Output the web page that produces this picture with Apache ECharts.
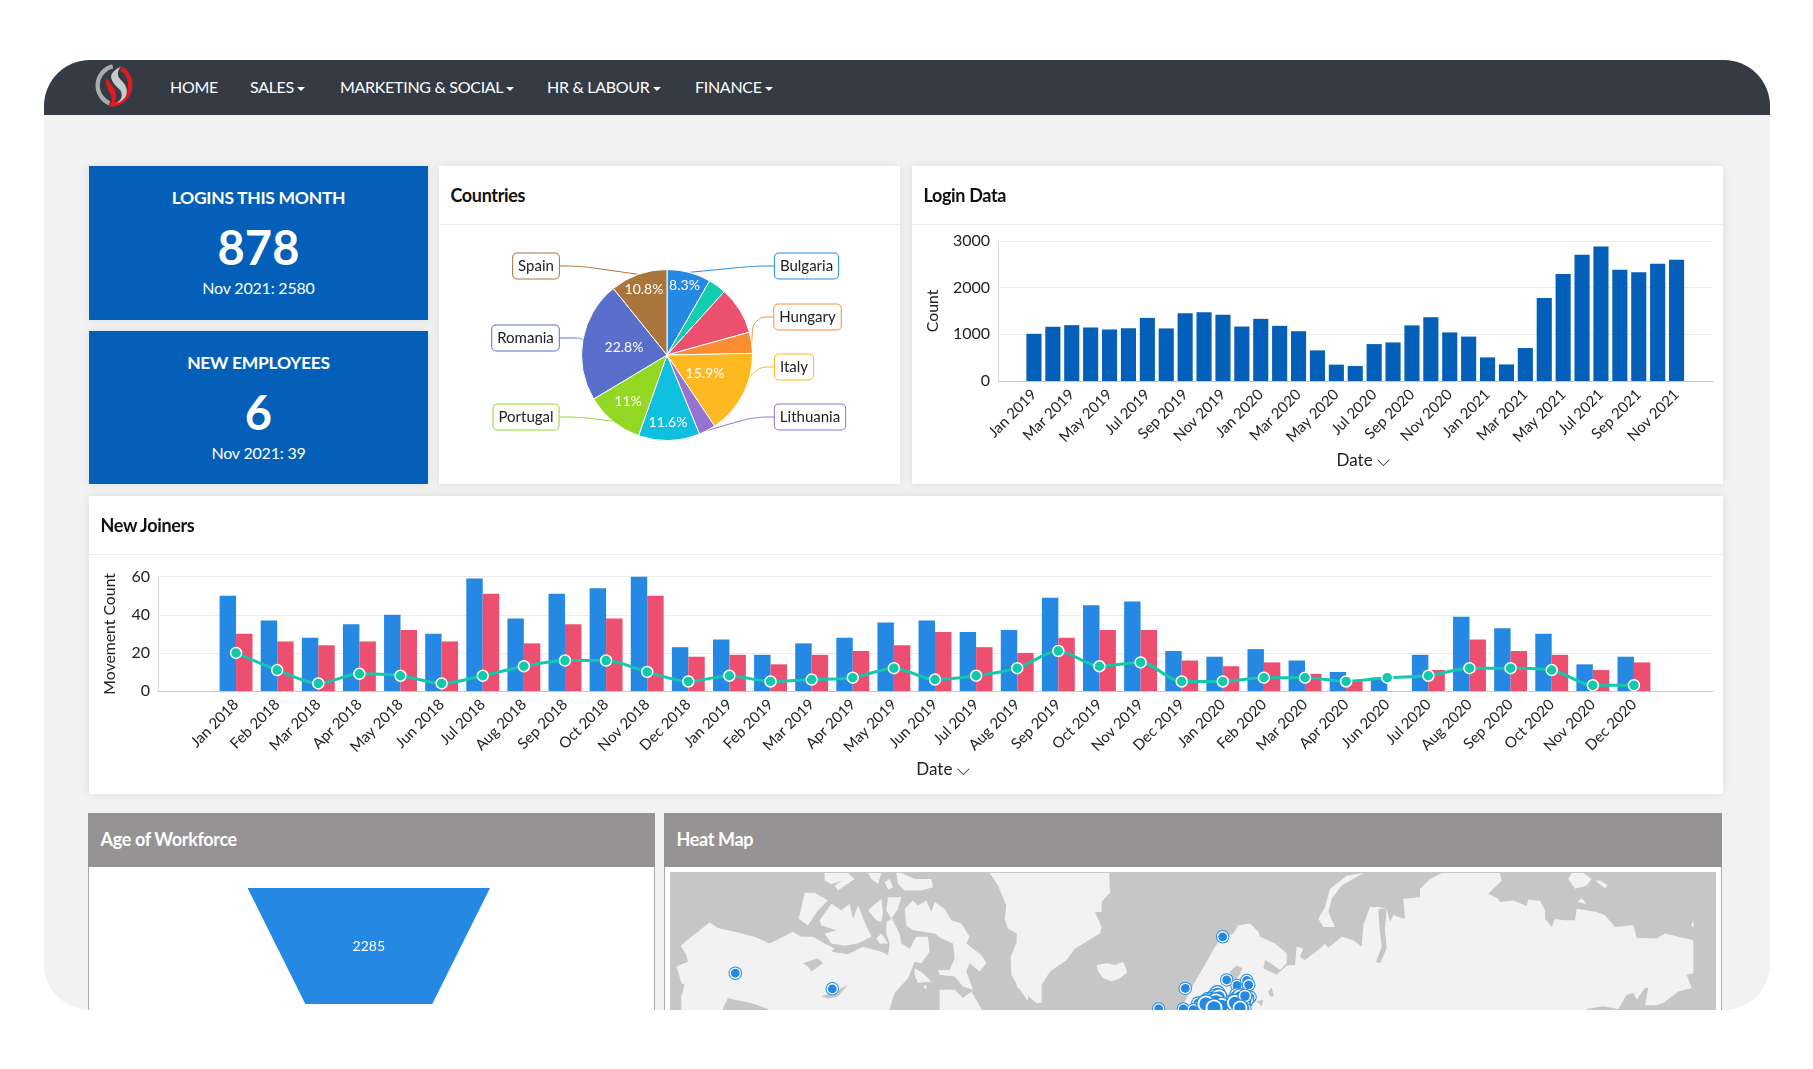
<!DOCTYPE html>
<html>
<head>
<meta charset="utf-8">
<title>Dashboard</title>
<script src="https://cdn.jsdelivr.net/npm/echarts@6/dist/echarts.min.js"></script>
<style>
	html, body { margin: 0; padding: 0; width: 1813px; height: 1069px; background: #fff; overflow: hidden; font-family: Lato, sans-serif; }
	.frame { position: absolute; left: 44px; top: 60px; width: 1726px; height: 950px; background: #f2f2f2; border-radius: 46px; overflow: hidden; }
	.nav { position: absolute; left: 0; top: 0; width: 100%; height: 54.5px; background: #343b45; }
	.nav span { position: absolute; top: 0; line-height: 54px; color: #fff; font-size: 16px; letter-spacing: -0.3px; white-space: nowrap; }
	.nav i { display: inline-block; margin-left: 3px; vertical-align: 2px; border-left: 4px solid transparent; border-right: 4px solid transparent; border-top: 4px solid #fff; }
	.card { position: absolute; background: #fff; box-shadow: 0 0 9px rgba(0,0,0,.09); }
	.card h3 { position: absolute; left: 11.5px; top: 0; margin: 0; height: 58px; line-height: 58px; font-size: 18px; font-weight: 700; letter-spacing: -0.35px; color: #111; }
	.line { position: absolute; left: 0; right: 0; top: 58px; height: 1px; background: #ececec; }
	.kpi { background: #035fb7; color: #fff; text-align: center; }
	.kpi div { position: absolute; left: 0; right: 0; }
	.kpi .t { font-size: 17.5px; font-weight: 700; letter-spacing: -0.3px; }
	.kpi .n { font-size: 47px; font-weight: 700; }
	.kpi .s { font-size: 16px; letter-spacing: -0.2px; }
	.grey { border-left: 1px solid #aaa; border-right: 1px solid #aaa; box-shadow: none; }
	.grey .head { position: absolute; left: -1px; right: -1px; top: 0; height: 54px; background: #959394; }
	.grey h3 { color: #fff; top: 0; height: 54px; line-height: 52px; }
	.chart { position: absolute; }
</style>
</head>
<body>
<div class="frame">
	<div class="nav">
		<svg style="position:absolute;left:50px;top:2px" width="44" height="48" viewBox="0 0 40 44">
			<path d="M17 4 A18 18 0 0 0 14 38" fill="none" stroke="#a9abad" stroke-width="4"/>
			<path d="M25 6 A18 18 0 0 1 14 39" fill="none" stroke="#e01b1f" stroke-width="4"/>
			<path d="M25 4 C8 12 18 20 24 26 C27 32 24 36 20 38 C32 34 32 24 26 18 C21 14 20 9 25 4 Z" fill="#c9cacb"/>
			<path d="M11 15 C9 24 18 30 16 38 C24 34 20 24 11 15 Z" fill="#e01b1f"/>
		</svg>
		<span style="left:126px">HOME</span>
		<span style="left:206px">SALES<i></i></span>
		<span style="left:296px">MARKETING &amp; SOCIAL<i></i></span>
		<span style="left:503px">HR &amp; LABOUR<i></i></span>
		<span style="left:651px">FINANCE<i></i></span>
	</div>

	<div class="card kpi" style="left:45px;top:106px;width:339px;height:154px">
		<div class="t" style="top:21px">LOGINS THIS MONTH</div>
		<div class="n" style="top:53px">878</div>
		<div class="s" style="top:112px">Nov 2021: 2580</div>
	</div>
	<div class="card kpi" style="left:45px;top:271px;width:339px;height:153px">
		<div class="t" style="top:21px">NEW EMPLOYEES</div>
		<div class="n" style="top:53px">6</div>
		<div class="s" style="top:112px">Nov 2021: 39</div>
	</div>

	<div class="card" style="left:395px;top:106px;width:461px;height:318px">
		<h3>Countries</h3><div class="line"></div>
		<div class="chart" id="pie" style="left:0;top:59px;width:461px;height:259px"></div>
	</div>
	<div class="card" style="left:868px;top:106px;width:811px;height:318px">
		<h3>Login Data</h3><div class="line"></div>
		<div class="chart" id="logins" style="left:0;top:59px;width:811px;height:259px"></div>
	</div>
	<div class="card" style="left:45px;top:436px;width:1634px;height:298px">
		<h3>New Joiners</h3><div class="line"></div>
		<div class="chart" id="joiners" style="left:0;top:58px;width:1634px;height:240px"></div>
	</div>
	<div class="card grey" style="left:44px;top:753px;width:565px;height:300px">
		<div class="head"></div><h3>Age of Workforce</h3>
		<div class="chart" id="age" style="left:-1px;top:54px;width:567px;height:300px"></div>
	</div>
	<div class="card grey" style="left:620px;top:753px;width:1056px;height:300px">
		<div class="head"></div><h3>Heat Map</h3>
		<div class="chart" id="map" style="left:5px;top:59px;width:1046px;height:169px"></div>
	</div>
</div>
<script>
var FONT = 'Lato, sans-serif'
var TEXT = '#222'

// 国家饼图
var countryNames = ['Bulgaria', '', '', 'Hungary', 'Italy', 'Lithuania', '', 'Portugal', 'Romania', 'Spain']
var countryShare = [8.3, 3.4, 9, 4, 15.9, 3.2, 11.6, 11, 22.8, 10.8]
var countryColors = ['#2589e3', '#12cdb0', '#eb5071', '#fa8d30', '#fdb91f', '#9673d1', '#0ebfde', '#93d822', '#5a6fcc', '#a8753a']
var countryPercentShown = [true, false, false, false, true, false, true, true, true, true]

// 登录数据
var loginMonths = ['Jan 2019', 'Feb 2019', 'Mar 2019', 'Apr 2019', 'May 2019', 'Jun 2019', 'Jul 2019', 'Aug 2019', 'Sep 2019', 'Oct 2019', 'Nov 2019', 'Dec 2019',
	'Jan 2020', 'Feb 2020', 'Mar 2020', 'Apr 2020', 'May 2020', 'Jun 2020', 'Jul 2020', 'Aug 2020', 'Sep 2020', 'Oct 2020', 'Nov 2020', 'Dec 2020',
	'Jan 2021', 'Feb 2021', 'Mar 2021', 'Apr 2021', 'May 2021', 'Jun 2021', 'Jul 2021', 'Aug 2021', 'Sep 2021', 'Oct 2021', 'Nov 2021']
var loginCounts = [1010, 1160, 1195, 1145, 1100, 1130, 1350, 1125, 1450, 1470, 1415, 1165,
	1330, 1180, 1065, 655, 350, 320, 790, 825, 1190, 1365, 1040, 950,
	505, 355, 705, 1775, 2290, 2700, 2880, 2380, 2325, 2510, 2595]

// 新入职
var joinerMonths = ['Jan 2018', 'Feb 2018', 'Mar 2018', 'Apr 2018', 'May 2018', 'Jun 2018', 'Jul 2018', 'Aug 2018', 'Sep 2018', 'Oct 2018', 'Nov 2018', 'Dec 2018',
	'Jan 2019', 'Feb 2019', 'Mar 2019', 'Apr 2019', 'May 2019', 'Jun 2019', 'Jul 2019', 'Aug 2019', 'Sep 2019', 'Oct 2019', 'Nov 2019', 'Dec 2019',
	'Jan 2020', 'Feb 2020', 'Mar 2020', 'Apr 2020', 'Jun 2020', 'Jul 2020', 'Aug 2020', 'Sep 2020', 'Oct 2020', 'Nov 2020', 'Dec 2020']
var joinersIn = [50, 37, 28, 35, 40, 30, 59, 38, 51, 54, 60, 23,
	27, 19, 25, 28, 36, 37, 31, 32, 49, 45, 47, 21,
	18, 22, 16, 10, 7, 19, 39, 33, 30, 14, 18]
var joinersOut = [30, 26, 24, 26, 32, 26, 51, 25, 35, 38, 50, 18,
	19, 14, 19, 21, 24, 31, 23, 20, 28, 32, 32, 16,
	13, 15, 9, 5, 0, 11, 27, 21, 19, 11, 15]
var joinersNet = [20, 11, 4, 9, 8, 4, 8, 13, 16, 16, 10, 5,
	8, 5, 6, 7, 12, 6, 8, 12, 21, 13, 15, 5,
	5, 7, 7, 5, 7, 8, 12, 12, 11, 3, 3]

// 年龄漏斗（第二段在截图外）
var ageValues = [2285, 1197]

// 地图上的点：x、y（页面像素）、点的大小
var mapPoints = [[735.3, 973, 1], [832.3, 988.7, 1], [1222.7, 936.3, 1], [1185.3, 988.3, 1], [1158.7, 1009, 1], [1183.3, 1009, 1], [1226.7, 979.7, 1], [1237, 985.3, 1], [1246.7, 980.3, 1], [1248.7, 984.7, 1],
	[1217.3, 993, 1.2], [1215, 998, 1.4], [1208.3, 999.7, 1.2], [1218.3, 1003, 1.5], [1198.3, 1003.7, 1.1], [1201.7, 1008, 1.4], [1210, 1006.3, 1.5], [1193.3, 1009.7, 1],
	[1236.7, 994.7, 1.1], [1250, 997.3, 1], [1231.7, 1000.7, 1], [1238.3, 999.7, 1.4], [1243.3, 1001.3, 1.4], [1246.7, 999.7, 1.1], [1236.7, 1004.7, 1.4], [1241.7, 1005.3, 1.4], [1245, 1009, 1], [1233.3, 1008, 1], [1220, 1009.7, 1.2],
	[1212, 1001, 1.4], [1219, 997, 1.3], [1216, 1002, 1.5], [1222, 1006, 1.4], [1206, 1004, 1.5], [1214, 1008, 1.5], [1240, 997, 1.3], [1235, 1003, 1.4], [1245, 996, 1.1], [1240, 1008, 1.3]]

// 地图轮廓，坐标取自放大图：按 起点 + 点/3 换算成页面像素
function at(ox, oy, pts) {
	return pts.map(function (p) { return [ox + p[0] / 3, oy + p[1] / 3] })
}
var west = [668, 868], mid = [1020, 868], east = [1370, 868]
var landRings = [
	at(west[0], west[1], [[38,232],[70,205],[125,162],[150,178],[200,190],[260,205],[305,225],[345,205],[375,190],[400,205],[435,205],[470,225],[500,240],[490,250],[540,258],[585,235],[640,250],[660,260],[665,225],[655,195],[655,160],[672,150],[695,195],[700,225],[725,240],[745,205],[780,205],[785,250],[760,285],[740,280],[720,330],[680,375],[665,423],[665,520],[300,520],[300,423],[250,405],[200,395],[180,390],[165,420],[160,520],[40,520],[40,385],[50,350],[40,345],[30,310],[25,295],[60,280],[55,260]]),
	at(west[0], west[1], [[815,365],[860,365],[885,390],[910,370],[930,405],[940,423],[950,520],[815,520]]),
	at(west[0], west[1], [[710,120],[735,95],[750,110],[775,95],[790,130],[800,100],[830,120],[850,155],[880,165],[905,205],[895,225],[940,260],[955,285],[935,310],[905,285],[895,310],[915,365],[885,355],[860,325],[815,320],[810,305],[845,305],[860,270],[855,225],[820,210],[800,195],[735,185],[715,170]]),
	at(west[0], west[1], [[455,155],[490,105],[520,125],[545,105],[555,150],[570,110],[590,160],[610,205],[570,225],[530,232],[490,225],[470,195],[505,185],[460,170]]),
	at(west[0], west[1], [[392,150],[410,72],[440,72],[480,95],[450,125],[420,170]]),
	at(west[0], west[1], [[600,125],[640,90],[645,130],[640,160],[625,155]]),
	at(west[0], west[1], [[660,85],[700,85],[690,120],[670,150],[655,125]]),
	at(west[0], west[1], [[625,210],[640,195],[660,225],[635,225]]),
	at(west[0], west[1], [[470,12],[540,12],[560,30],[510,65],[500,50],[525,35],[490,45],[470,35]]),
	at(west[0], west[1], [[600,12],[640,12],[630,45],[610,30]]),
	at(west[0], west[1], [[650,40],[665,30],[675,55],[660,62]]),
	at(west[0], west[1], [[685,12],[700,12],[740,30],[790,30],[795,55],[760,65],[710,65],[690,45]]),
	at(west[0], west[1], [[740,300],[765,315],[790,340],[750,345],[740,320]]),
	at(west[0], west[1], [[765,355],[775,350],[775,365]]),
	// 格陵兰
	at(west[0], west[1], [[965,12],[1080,12],[1080,400],[1056,365],[1030,320],[1028,265],[1055,200],[1020,180],[1010,150],[1015,110],[990,50]]),
	at(mid[0], mid[1], [[-10,12],[268,12],[270,70],[245,100],[245,130],[225,130],[245,175],[240,195],[165,240],[140,275],[90,310],[65,350],[65,405],[50,405],[0,365],[-10,355]]),
	// 冰岛
	at(mid[0], mid[1], [[230,290],[260,285],[285,290],[310,280],[322,312],[300,330],[275,340],[250,330],[235,310]]),
	// 新地岛
	at(mid[0], mid[1], [[895,150],[915,115],[930,60],[980,20],[1030,12],[965,50],[935,90],[925,130],[945,175],[910,175]]),
	// 欧亚大陆
	at(mid[0], mid[1], [[490,520],[490,410],[520,350],[560,280],[585,235],[600,215],[640,195],[655,170],[690,165],[715,190],[720,205],[765,225],[800,255],[800,285],[780,305],[760,290],[735,275],[730,300],[770,320],[800,292],[825,290],[830,235],[850,240],[840,265],[855,275],[900,240],[915,225],[925,238],[965,205],[1000,215],[1025,235],[1030,170],[1050,115]]).concat(
		at(east[0], east[1], [[25,115],[50,120],[60,160],[70,140],[105,150],[100,90],[150,85],[150,60],[180,30],[215,12],[390,12],[395,35],[355,75],[385,90],[390,100],[430,95],[470,112],[475,92],[510,97],[525,125],[525,150],[545,175],[555,150],[580,155],[615,155],[620,120],[680,130],[705,140],[735,175],[790,170],[800,208],[860,210],[885,195],[970,215],[970,315],[950,320],[965,360],[925,370],[880,405],[860,412],[825,412],[835,360],[825,360],[800,395],[790,375],[770,380],[745,423],[700,415],[650,423],[640,520],[0,520]])),
	at(east[0], east[1], [[595,30],[605,12],[640,12],[665,30],[650,50],[615,60]]),
	at(east[0], east[1], [[675,35],[690,35],[713,48],[705,58]]),
	at(east[0], east[1], [[622,100],[635,88],[650,105]]),
	at(east[0], east[1], [[962,170],[970,158],[972,175]])
]
var lakeRings = [
	at(west[0], west[1], [[405,285],[450,270],[465,285],[430,310],[420,295]]),
	at(west[0], west[1], [[460,385],[490,375],[540,350],[510,385],[480,392]]),
	at(west[0], west[1], [[822,245],[835,240],[838,262],[825,265]]),
	at(mid[0], mid[1], [[630,310],[650,292],[668,300],[650,335],[635,330]]),
	at(mid[0], mid[1], [[745,370],[755,358],[762,385],[750,385]]),
	at(mid[0], mid[1], [[710,400],[730,395],[725,415]]),
	at(east[0], east[1], [[25,120],[50,120],[45,180],[50,240],[30,285],[18,280],[35,235],[28,170]])
]

function initChart(id) {
	return echarts.init(document.getElementById(id))
}

// 柱子比坐标轴窄：外层 grid 画轴和网格线，内层 grid 放柱子
function comboOption(o) {
	return {
		animation: false,
		grid: [
			{ left: o.left, width: o.width, top: o.top, height: o.height },
			{ left: o.barLeft, width: o.barWidth, top: o.top, height: o.height }
		],
		xAxis: [
			{ gridIndex: 0, type: 'value', min: 0, max: 1, axisLabel: { show: false }, axisTick: { show: false }, splitLine: { show: false },
				axisLine: { show: true, onZero: false, lineStyle: { color: '#c8c8c8', width: 1 } } },
			{ gridIndex: 1, type: 'category', data: o.categories, axisLine: { show: false }, axisTick: { show: false },
				axisLabel: { interval: o.labelInterval, rotate: 45, margin: 11, fontFamily: FONT, fontSize: 15, color: TEXT },
				name: 'Date \u2335', nameLocation: 'middle', nameGap: o.xNameGap, nameMoveOverlap: false,
				nameTextStyle: { fontFamily: FONT, fontSize: 17, color: TEXT, padding: [0, 0, 0, 16] } }
		],
		yAxis: [
			{ gridIndex: 0, type: 'value', min: 0, max: o.max, interval: o.interval,
				axisLine: { show: true, lineStyle: { color: '#d8d8d8' } }, axisTick: { show: false },
				axisLabel: { fontFamily: FONT, fontSize: 16, color: TEXT, formatter: function (v) { return String(v) } },
				splitLine: { lineStyle: { color: '#ececec' } },
				name: o.yName, nameLocation: 'middle', nameGap: o.yNameGap, nameMoveOverlap: false,
				nameTextStyle: { fontFamily: FONT, fontSize: 15.8, color: TEXT } },
			{ gridIndex: 1, type: 'value', min: 0, max: o.max, interval: o.interval, show: false }
		],
		series: o.series
	}
}

initChart('pie').setOption((function () {
	// 标签中心位置（图表内像素）
	var outerLabelPos = { Bulgaria: [367.5, 41], Hungary: [368.5, 92], Italy: [355, 142], Lithuania: [371, 192], Portugal: [87, 192], Romania: [86.5, 113], Spain: [97, 41] }
	var innerLabelPos = [[245.5, 60.5], null, null, null, [266, 148.5], null, [229, 197], [189, 176], [185, 122], [205, 64]]
	var outerData = [], innerData = []
	for (var i = 0; i < countryShare.length; i++) {
		outerData.push({
			name: countryNames[i], value: countryShare[i], itemStyle: { color: countryColors[i] },
			label: { show: countryNames[i] !== '', borderColor: countryColors[i] },
			labelLine: { show: countryNames[i] !== '', lineStyle: { color: countryColors[i] } }
		})
		innerData.push({
			name: countryNames[i], value: countryShare[i],
			itemStyle: { color: 'transparent', borderWidth: 0 },
			label: { show: countryPercentShown[i] }
		})
	}
	var common = { type: 'pie', center: [228, 130], radius: [0, 85.5], startAngle: 90, silent: true, animation: false }
	return {
		series: [
			Object.assign({}, common, {
				data: outerData,
				itemStyle: { borderColor: '#fff', borderWidth: 1 },
				label: { position: 'outside', formatter: '{b}', fontFamily: FONT, fontSize: 15, color: TEXT, backgroundColor: '#fff', borderWidth: 1, borderRadius: 4, padding: [5, 5] },
				labelLine: { smooth: 0.4, length: 20, length2: 20, lineStyle: { width: 1 } },
				labelLayout: function (p) {
					var pos = outerLabelPos[countryNames[p.dataIndex]]
					if (!pos) return {}
					return { x: pos[0], y: pos[1], align: 'center', verticalAlign: 'middle' }
				}
			}),
			Object.assign({}, common, {
				data: innerData,
				label: { position: 'inside', formatter: '{c}%', fontFamily: FONT, fontSize: 14, color: '#fff' },
				labelLine: { show: false },
				labelLayout: function (p) {
					var pos = innerLabelPos[p.dataIndex]
					if (!pos) return {}
					return { x: pos[0], y: pos[1], align: 'center', verticalAlign: 'middle' }
				}
			})
		]
	}
})())

initChart('logins').setOption(comboOption({
	left: 86, width: 715, top: 15.8, height: 140.2,
	barLeft: 112.5, barWidth: 661.5,
	categories: loginMonths, labelInterval: 1,
	max: 3000, interval: 1000, yName: 'Count', yNameGap: 57, xNameGap: 71,
	series: [
		{ name: 'Count', type: 'bar', xAxisIndex: 1, yAxisIndex: 1, data: loginCounts, barCategoryGap: '20%', itemStyle: { color: '#035fb7' } }
	]
}))

initChart('joiners').setOption(comboOption({
	left: 69, width: 1555, top: 22.7, height: 114.3,
	barLeft: 126.5, barWidth: 1439,
	categories: joinerMonths, labelInterval: 0,
	max: 60, interval: 20, yName: 'Movement Count', yNameGap: 40, xNameGap: 70,
	series: [
		{ name: 'In', type: 'bar', xAxisIndex: 1, yAxisIndex: 1, data: joinersIn, barGap: 0, barCategoryGap: '20%', itemStyle: { color: '#2589e3' } },
		{ name: 'Out', type: 'bar', xAxisIndex: 1, yAxisIndex: 1, data: joinersOut, barGap: 0, barCategoryGap: '20%', itemStyle: { color: '#ec4f70' } },
		{ name: 'Net', type: 'line', xAxisIndex: 1, yAxisIndex: 1, data: joinersNet, smooth: 0.3, symbol: 'circle', symbolSize: 11,
			lineStyle: { color: '#12c9ab', width: 3 }, itemStyle: { color: '#12c9ab', borderColor: '#fff', borderWidth: 1.5 } }
	]
}))

initChart('age').setOption({
	animation: false,
	series: [{
		type: 'funnel', left: 159.6, top: 21, width: 242.4, height: 240, gap: 8, sort: 'none', min: 0, max: ageValues[0], minSize: '0%', maxSize: '100%',
		silent: true,
		data: ageValues.map(function (v, i) { return { value: v, label: { show: i === 0 } } }),
		itemStyle: { color: '#2589e3', borderWidth: 0 },
		label: { position: 'inside', formatter: '{c}', fontFamily: FONT, fontSize: 14, color: '#fff', offset: [0, 1] },
		labelLine: { show: false }
	}]
})

function ringFeature(name, rings) {
	return { type: 'Feature', properties: { name: name }, geometry: { type: 'MultiPolygon', coordinates: rings.map(function (r) { return [r.concat([r[0]])] }) } }
}
var waterRing = [[670, 871], [1716, 871], [1716, 1040], [670, 1040]]
echarts.registerMap('heat', {
	type: 'FeatureCollection',
	features: [ringFeature('water', [waterRing]), ringFeature('land', landRings), ringFeature('lake', lakeRings)]
})
initChart('map').setOption({
	animation: false,
	geo: {
		map: 'heat', silent: true, roam: false, left: 0, top: 0, right: 0, bottom: 0, aspectScale: 1,
		projection: { project: function (p) { return p }, unproject: function (p) { return p } },
		label: { show: false },
		itemStyle: { borderWidth: 0, areaColor: '#c6c6c6' },
		regions: [
			{ name: 'water', itemStyle: { areaColor: '#c6c6c6', borderWidth: 0 } },
			{ name: 'land', itemStyle: { areaColor: '#f2f2f2', borderWidth: 0 } },
			{ name: 'lake', itemStyle: { areaColor: '#c6c6c6', borderWidth: 0 } }
		]
	},
	series: [{
		type: 'custom', coordinateSystem: 'geo', silent: true, data: mapPoints,
		renderItem: function (params, api) {
			var c = api.coord([api.value(0), api.value(1)])
			var k = api.value(2)
			return {
				type: 'group',
				children: [
					{ type: 'circle', shape: { cx: c[0], cy: c[1], r: 6.7 * k }, style: { fill: '#2589e3' } },
					{ type: 'circle', shape: { cx: c[0], cy: c[1], r: 5.7 * k }, style: { fill: '#fff' } },
					{ type: 'circle', shape: { cx: c[0], cy: c[1], r: 4.4 * k }, style: { fill: '#2589e3' } }
				]
			}
		}
	}]
})
</script>
</body>
</html>
